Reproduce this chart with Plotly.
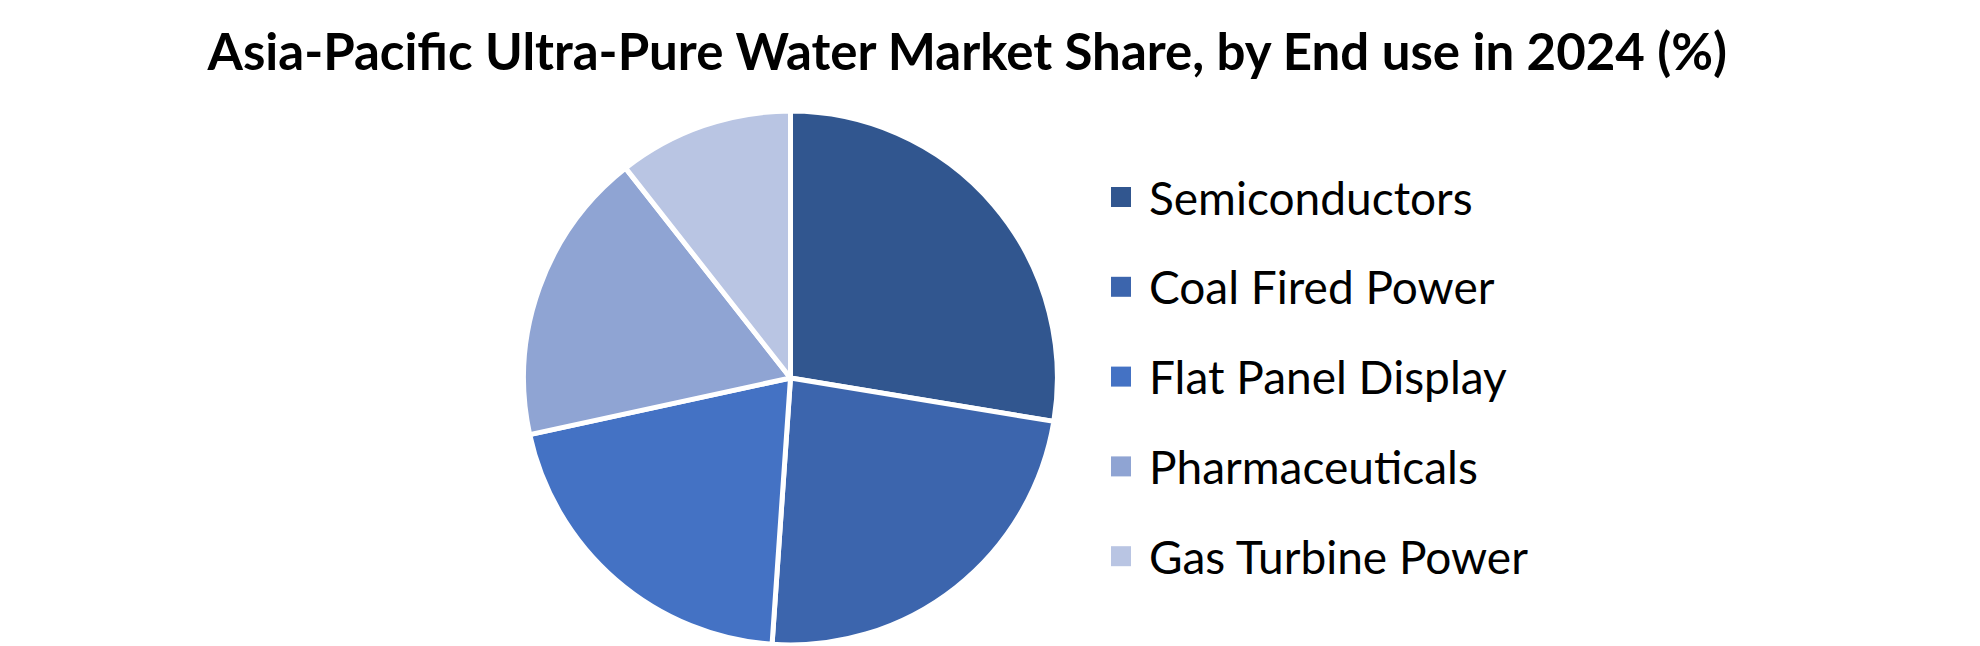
import plotly.graph_objects as go

# End-use shares (%)
categories = ["Semiconductors", "Coal Fired Power", "Flat Panel Display",
              "Pharmaceuticals", "Gas Turbine Power"]
shares = [27.6, 23.5, 20.5, 17.8, 10.6]
colors = ["#31568F", "#3C65AD", "#4472C4", "#8FA4D3", "#B9C5E3"]

W, H = 1980, 646

fig = go.Figure()
fig.add_trace(go.Pie(
    labels=categories,
    values=shares,
    sort=False,
    direction="clockwise",
    rotation=0,
    textinfo="none",
    hoverinfo="label+percent",
    marker=dict(colors=colors, line=dict(color="white", width=5)),
    domain=dict(x=[0.2604, 0.530], y=[0.0139, 0.8406]),
    showlegend=False,
))

# legend drawn by hand so the rows get the wide spacing of the original
leg_x = 1103 / W
row_top = 189
row_gap = 89.8
for i, (name, col) in enumerate(zip(categories, colors)):
    yc = 1 - (row_top + i * row_gap) / H
    fig.add_shape(type="rect", xref="paper", yref="paper",
                  x0=leg_x, x1=leg_x + 20 / W,
                  y0=yc - 10 / H, y1=yc + 10 / H,
                  fillcolor=col, line=dict(width=0))
    fig.add_annotation(x=leg_x + 36 / W, y=yc, xref="paper", yref="paper",
                       text=name, showarrow=False, xanchor="left", yanchor="middle",
                       font=dict(family="Lato", size=46, color="black"))

fig.update_layout(
    width=W, height=H,
    margin=dict(l=0, r=0, t=0, b=0),
    paper_bgcolor="white",
    plot_bgcolor="white",
    title=dict(text="<b>Asia-Pacific Ultra-Pure Water Market Share, by End use in 2024 (%)</b>",
               x=0.4845, xanchor="center", y=1 - 44 / H, yanchor="middle",
               font=dict(family="Lato", size=51, color="black")),
)

fig.write_html("out.html")
